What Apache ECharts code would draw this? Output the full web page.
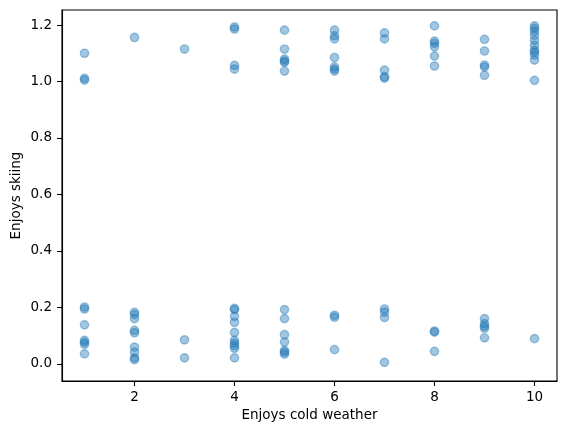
<!DOCTYPE html>
<html>
<head>
<meta charset="utf-8">
<script src="https://cdn.jsdelivr.net/npm/echarts@6/dist/echarts.min.js"></script>
<style>
html,body{margin:0;padding:0;background:#fff;}
#chart{width:567px;height:432px;}
</style>
</head>
<body>
<div id="chart"></div>
<script>
// Enjoys cold weather (x) and Enjoys skiing (y), parallel arrays
const coldWeather = [
  1,1,1,1,1,1,1,1,1,1,
  2,2,2,2,2,2,2,2,2,2,
  3,3,3,
  4,4,4,4,4,4,4,4,4,4,4,4,4,4,
  5,5,5,5,5,5,5,5,5,5,5,5,5,
  6,6,6,6,6,6,6,6,6,6,
  7,7,7,7,7,7,7,7,7,
  8,8,8,8,8,8,8,8,8,
  9,9,9,9,9,9,9,9,9,9,
  10,10,10,10,10,10,10,10,10,10,10,10
];
const skiing = [
  1.100,1.011,1.005,0.201,0.194,0.138,0.083,0.076,0.069,0.035,
  1.156,0.182,0.174,0.160,0.118,0.110,0.059,0.041,0.021,0.015,
  1.115,0.085,0.021,
  1.193,1.186,1.057,1.044,0.196,0.192,0.168,0.147,0.111,0.083,0.073,0.064,0.055,0.021,
  1.182,1.115,1.079,1.072,1.068,1.037,0.192,0.160,0.103,0.077,0.047,0.041,0.034,
  1.182,1.162,1.151,1.085,1.052,1.044,1.037,0.172,0.165,0.050,
  1.172,1.151,1.040,1.017,1.012,0.194,0.183,0.164,0.005,
  1.197,1.143,1.135,1.123,1.090,1.055,0.116,0.112,0.044,
  1.149,1.108,1.058,1.051,1.022,0.160,0.142,0.133,0.126,0.092,
  1.197,1.188,1.178,1.164,1.146,1.128,1.111,1.104,1.094,1.076,1.004,0.089
];
const xTicks = [2,4,6,8,10];
const yTicks = [0,0.2,0.4,0.6,0.8,1.0,1.2];
const xLabel = 'Enjoys cold weather';
const yLabel = 'Enjoys skiing';

const points = coldWeather.map((x,i)=>[x, skiing[i]]);
const font = 'DejaVu Sans';
const chart = echarts.init(document.getElementById('chart'), null, {renderer:'canvas'});
chart.setOption({
  animation:false,
  backgroundColor:'#fff',
  grid:{left:62,right:10,top:10,bottom:51,outerBoundsMode:'none',containLabel:false,
    show:true,borderColor:'#000',borderWidth:1.1,backgroundColor:'transparent'},
  xAxis:{
    type:'value',min:0.55,max:10.45,
    name:xLabel,nameLocation:'middle',nameGap:25,
    nameTextStyle:{color:'#000',fontFamily:font,fontSize:13.5},
    axisLine:{show:true,onZero:false,lineStyle:{color:'#000',width:1.1}},
    axisTick:{show:true,length:5,lineStyle:{color:'#000',width:1.1},customValues:xTicks},
    axisLabel:{color:'#000',fontFamily:font,fontSize:13.5,margin:9,customValues:xTicks},
    splitLine:{show:false}
  },
  yAxis:{
    type:'value',min:-0.061,max:1.2533,
    name:yLabel,nameLocation:'middle',nameGap:39,nameRotate:90,nameMoveOverlap:false,
    nameTextStyle:{color:'#000',fontFamily:font,fontSize:13.5},
    axisLine:{show:true,onZero:false,lineStyle:{color:'#000',width:1.1}},
    axisTick:{show:true,length:5,lineStyle:{color:'#000',width:1.1},customValues:yTicks},
    axisLabel:{color:'#000',fontFamily:font,fontSize:13.5,margin:10,customValues:yTicks,
      formatter:v=>v.toFixed(1)},
    splitLine:{show:false}
  },
  series:[{
    type:'scatter',
    data:points,
    symbol:'circle',
    symbolSize:8.3,
    itemStyle:{color:'rgba(31,119,180,0.52)',borderColor:'rgba(31,119,180,0.52)',borderWidth:1.4}
  }]
});
</script>
</body>
</html>
